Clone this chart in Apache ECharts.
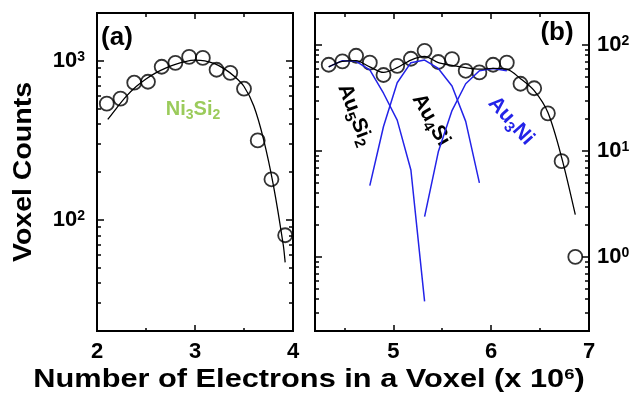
<!DOCTYPE html>
<html>
<head>
<meta charset="utf-8">
<script src="https://cdn.jsdelivr.net/npm/echarts@6/dist/echarts.min.js"></script>
<style>
  html, body { margin: 0; padding: 0; background: #fff; }
  #chart { width: 636px; height: 406px; }
</style>
</head>
<body>
<div id="chart"></div>
<script>
// panel (a): Ni3Si2
const aX = [2.10, 2.24, 2.38, 2.52, 2.66, 2.80, 2.94, 3.08, 3.22, 3.36, 3.50, 3.64, 3.78, 3.92]
const aY = [538, 579, 729, 739, 918, 972, 1059, 1044, 879, 841, 668, 316, 180, 80]
const aFitX = [2.11, 2.2, 2.3, 2.4, 2.5, 2.6, 2.7, 2.8, 2.9, 3.0, 3.1, 3.2, 3.3, 3.4, 3.5, 3.6, 3.7, 3.8, 3.9, 3.92]
const aFitY = [428, 505, 600, 690, 770, 840, 900, 950, 990, 1010, 1000, 960, 890, 800, 690, 520, 320, 165, 70, 54]

// panel (b): Au5Si2 / Au4Si / Au3Ni
const bX = [4.34, 4.48, 4.62, 4.76, 4.90, 5.04, 5.18, 5.32, 5.46, 5.60, 5.74, 5.88, 6.02, 6.16, 6.30, 6.44, 6.58, 6.72, 6.86]
const bY = [65, 70, 79, 68, 52, 63.5, 74, 88, 69, 73.5, 57, 55, 65, 68, 43, 39, 22.6, 8.0, 1.0]
const bFitY = [62, 70, 71, 62, 55, 61, 72, 78, 68, 64, 61, 59, 60, 59, 48, 37, 23, 8.7, 2.5]
const au5Si2X = [4.34, 4.48, 4.62, 4.76, 4.90, 5.04, 5.18, 5.32]
const au5Si2Y = [62, 71, 70, 58, 35, 19.5, 6.6, 0.38]
const au4SiX = [4.76, 4.90, 5.04, 5.18, 5.32, 5.46, 5.60, 5.74, 5.88]
const au4SiY = [4.7, 17, 44, 68, 72, 60, 41, 19, 5.0]
const au3NiX = [5.32, 5.46, 5.60, 5.74, 5.88, 6.02, 6.16]
const au3NiY = [2.4, 9.8, 24, 43, 57, 60, 57]

// ticks
const aXMajor = [3]
const aXMinor = [2.5, 3.5]
const aXLabels = [2, 3, 4]
const bXMajor = [5, 6]
const bXMinor = [4.5, 5.5, 6.5]
const bXLabels = [5, 6, 7]
const aYMajor = [100, 1000]
const aYMinor = [30, 40, 50, 60, 70, 80, 90, 200, 300, 400, 500, 600, 700, 800, 900]
const bYMajor = [1, 10, 100]
const bYMinor = [0.3, 0.4, 0.5, 0.6, 0.7, 0.8, 0.9, 2, 3, 4, 5, 6, 7, 8, 9, 20, 30, 40, 50, 60, 70, 80, 90]

const FONT = '"Liberation Sans", Arial, Helvetica, sans-serif'
const BLUE = '#2323e8'
const GREEN = '#9bcb5b'

const chart = echarts.init(document.getElementById('chart'))

const pairs = (xs, ys) => xs.map((x, i) => [x, ys[i]])

const xAx = (grid, pos, min, max, ticks, len, labels) => ({
  type: 'value', gridIndex: grid, position: pos, min: min, max: max,
  axisLine: { show: false },
  splitLine: { show: false },
  axisTick: { show: true, inside: true, length: len, customValues: ticks,
    lineStyle: { color: '#000', width: 1.5 } },
  axisLabel: labels ? {
    show: true, customValues: labels, margin: 10,
    color: '#000', fontFamily: FONT, fontWeight: 'bold', fontSize: 22,
    formatter: v => String(v)
  } : { show: false }
})

const yAx = (grid, pos, min, max, ticks, len, labels) => ({
  type: 'log', logBase: 10, gridIndex: grid, position: pos, min: min, max: max,
  axisLine: { show: false },
  splitLine: { show: false },
  minorTick: { show: false },
  axisTick: { show: true, inside: true, length: len, customValues: ticks,
    lineStyle: { color: '#000', width: 1.5 } },
  axisLabel: labels ? {
    show: true, customValues: labels, margin: pos === 'left' ? 12 : 8,
    color: '#000', fontFamily: FONT, fontWeight: 'bold', fontSize: 22,
    formatter: v => '10{sup|' + Math.round(Math.log10(v)) + '}',
    rich: {
      sup: { fontSize: 14, fontWeight: 'bold', fontFamily: FONT, color: '#000', verticalAlign: 'top' }
    }
  } : { show: false }
})

// label with subscripts, rotated around its centre
const subText = (text, x, y, deg, color, size) => ({
  type: 'text', x: x, y: y, rotation: deg * Math.PI / 180,
  style: {
    text: text, fill: color, font: 'bold ' + size + 'px ' + FONT, align: 'center', verticalAlign: 'middle',
    rich: {
      s: { fontSize: Math.round(size * 0.7), fontWeight: 'bold', fontFamily: FONT, fill: color,
        verticalAlign: 'bottom', padding: [12, 0, 0, 0] }
    }
  }
})

const option = {
  animation: false,
  backgroundColor: '#fff',
  grid: [
    { left: 97, top: 13, width: 196, height: 318, show: true, borderColor: '#000', borderWidth: 2, backgroundColor: 'transparent' },
    { left: 315, top: 13, width: 274, height: 318, show: true, borderColor: '#000', borderWidth: 2, backgroundColor: 'transparent' }
  ],
  xAxis: [
    xAx(0, 'bottom', 2, 4, aXMajor, 6, aXLabels),
    xAx(0, 'bottom', 2, 4, aXMinor, 3),
    xAx(0, 'top', 2, 4, aXMajor, 6),
    xAx(0, 'top', 2, 4, aXMinor, 4),
    xAx(1, 'bottom', 4.2, 7, bXMajor, 6, bXLabels),
    xAx(1, 'bottom', 4.2, 7, bXMinor, 3),
    xAx(1, 'top', 4.2, 7, bXMajor, 6),
    xAx(1, 'top', 4.2, 7, bXMinor, 4)
  ],
  yAxis: [
    yAx(0, 'left', 20, 2000, aYMajor, 7, aYMajor),
    yAx(0, 'left', 20, 2000, aYMinor, 4),
    yAx(0, 'right', 20, 2000, aYMajor, 7),
    yAx(0, 'right', 20, 2000, aYMinor, 4),
    yAx(1, 'right', 0.2, 200, bYMajor, 7, bYMajor),
    yAx(1, 'right', 0.2, 200, bYMinor, 4),
    yAx(1, 'left', 0.2, 200, bYMajor, 7),
    yAx(1, 'left', 0.2, 200, bYMinor, 4)
  ],
  series: [
    {
      type: 'line', xAxisIndex: 0, yAxisIndex: 0, data: pairs(aFitX, aFitY),
      showSymbol: false, smooth: 0.3, lineStyle: { color: '#000', width: 1.3 }
    },
    {
      type: 'scatter', xAxisIndex: 0, yAxisIndex: 0, data: pairs(aX, aY),
      symbol: 'circle', symbolSize: 14,
      itemStyle: { color: 'rgba(0,0,0,0)', borderColor: '#000', borderWidth: 1.8 }
    },
    {
      type: 'line', xAxisIndex: 4, yAxisIndex: 4, data: pairs(au5Si2X, au5Si2Y),
      showSymbol: false, lineStyle: { color: BLUE, width: 1.5 }
    },
    {
      type: 'line', xAxisIndex: 4, yAxisIndex: 4, data: pairs(au4SiX, au4SiY),
      showSymbol: false, lineStyle: { color: BLUE, width: 1.5 }
    },
    {
      type: 'line', xAxisIndex: 4, yAxisIndex: 4, data: pairs(au3NiX, au3NiY),
      showSymbol: false, lineStyle: { color: BLUE, width: 1.5 }
    },
    {
      type: 'line', xAxisIndex: 4, yAxisIndex: 4, data: pairs(bX, bFitY),
      showSymbol: false, smooth: 0.3, lineStyle: { color: '#000', width: 1.3 }
    },
    {
      type: 'scatter', xAxisIndex: 4, yAxisIndex: 4, data: pairs(bX, bY),
      symbol: 'circle', symbolSize: 14,
      itemStyle: { color: 'rgba(0,0,0,0)', borderColor: '#000', borderWidth: 1.8 }
    }
  ],
  graphic: [
    { type: 'text', x: 117, y: 38, style: { text: '(a)', fill: '#000', font: 'bold 26px ' + FONT, align: 'center', verticalAlign: 'middle' } },
    { type: 'text', x: 557, y: 33, style: { text: '(b)', fill: '#000', font: 'bold 26px ' + FONT, align: 'center', verticalAlign: 'middle' } },
    subText('Ni{s|3}Si{s|2}', 193, 109, 0, GREEN, 20),
    subText('Au{s|5}Si{s|2}', 355, 115, -69, '#000', 21),
    subText('Au{s|4}Si', 431, 120, -60, '#000', 21),
    subText('Au{s|3}Ni', 511, 121, -48, BLUE, 21),
    {
      type: 'text', x: 24, y: 172, rotation: Math.PI / 2, scaleX: 1.14,
      style: { text: 'Voxel Counts', fill: '#000', font: 'bold 25px ' + FONT, align: 'center', verticalAlign: 'middle' }
    },
    {
      type: 'text', x: 309, y: 380, scaleX: 1.23,
      style: {
        text: 'Number of Electrons in a Voxel (x 10{sup|6})', fill: '#000', font: 'bold 25px ' + FONT,
        align: 'center', verticalAlign: 'middle',
        rich: { sup: { fontSize: 15, fontWeight: 'bold', fontFamily: FONT, fill: '#000', verticalAlign: 'top' } }
      }
    }
  ]
}

chart.setOption(option)
</script>
</body>
</html>
